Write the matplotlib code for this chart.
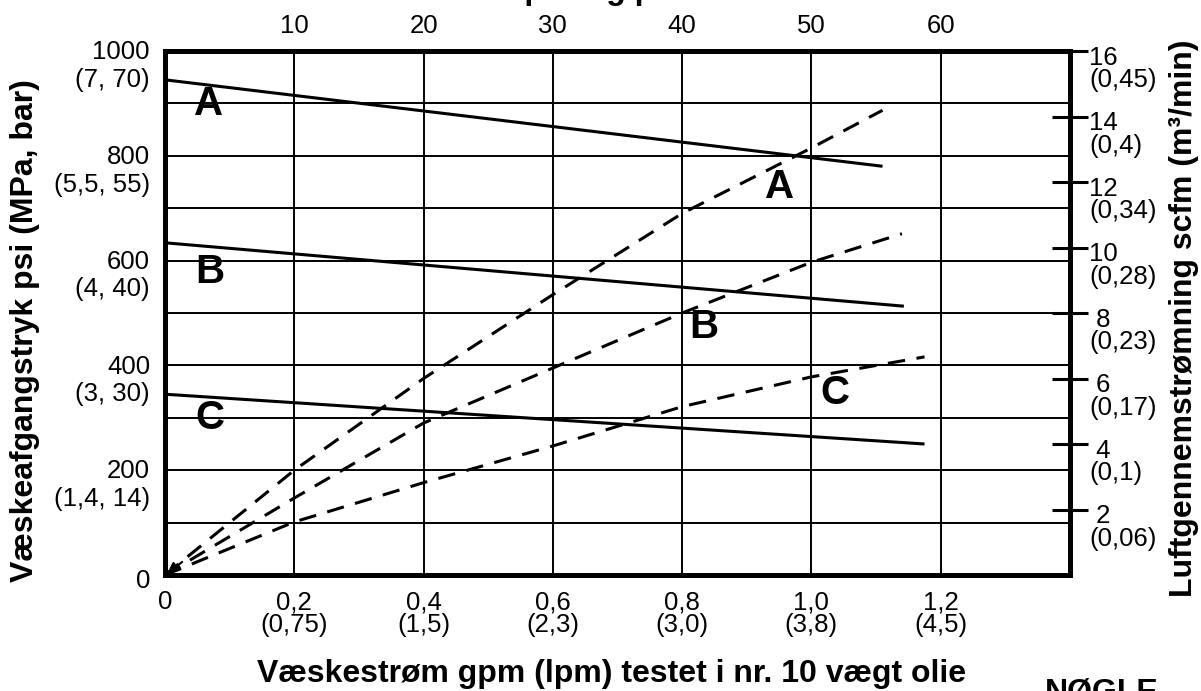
import matplotlib
matplotlib.use("Agg")
import matplotlib.pyplot as plt
from matplotlib.transforms import offset_copy

plt.rcParams['font.family'] = ['Liberation Sans', 'DejaVu Sans']

# --- data ---
# bottom axis: fluid flow gpm (lpm)
gpm_ticks = [0, 0.2, 0.4, 0.6, 0.8, 1.0, 1.2]
gpm_labels = ["0", "0,2\n(0,75)", "0,4\n(1,5)", "0,6\n(2,3)", "0,8\n(3,0)",
              "1,0\n(3,8)", "1,2\n(4,5)"]
# top axis: cycles per minute
cpm_ticks = [10, 20, 30, 40, 50, 60]
# left axis: fluid outlet pressure psi (MPa, bar)
psi_ticks = [0, 200, 400, 600, 800, 1000]
psi_labels = ["0", "200\n(1,4, 14)", "400\n(3, 30)", "600\n(4, 40)",
              "800\n(5,5, 55)", "1000\n(7, 70)"]
# right axis: air consumption scfm (m3/min)
scfm_ticks = [2, 4, 6, 8, 10, 12, 14, 16]
scfm_labels = [" 2\n(0,06)", " 4\n(0,1)", " 6\n(0,17)", " 8\n(0,23)",
               "10\n(0,28)", "12\n(0,34)", "14\n(0,4)", "16\n(0,45)"]

# fluid pressure curves (solid)
press_gpm_A = [0, 1.11]
press_psi_A = [945, 780]
press_gpm_B = [0, 1.143]
press_psi_B = [634, 513]
press_gpm_C = [0, 1.175]
press_psi_C = [345, 250]

# air consumption curves (dashed)
air_gpm_A = [0, 0.2, 0.4, 0.6, 0.8, 1.0, 1.11]
air_scfm_A = [0, 3.2, 6.0, 8.56, 11.04, 13.04, 14.19]
air_gpm_B = [0, 0.2, 0.4, 0.6, 0.8, 1.0, 1.14]
air_scfm_B = [0, 2.35, 4.64, 6.32, 8.0, 9.55, 10.42]
air_gpm_C = [0, 0.2, 0.4, 0.6, 0.8, 1.0, 1.175]
air_scfm_C = [0, 1.62, 2.82, 3.94, 5.14, 6.05, 6.66]

# --- figure ---
fig = plt.figure(figsize=(12.01, 6.91), dpi=100)
ax = fig.add_axes([165/1201, 116/691, 905/1201, 524/691])

ax.set_xlim(0, 1.4)
ax.set_ylim(0, 1000)

# grid every 0.2 gpm / 100 psi
ax.set_xticks([0.2, 0.4, 0.6, 0.8, 1.0, 1.2], minor=True)
ax.set_yticks([100, 200, 300, 400, 500, 600, 700, 800, 900], minor=True)
ax.grid(which='both', color='black', linewidth=1.4)
ax.tick_params(which='minor', length=0)

ax.set_xticks(gpm_ticks, gpm_labels)
ax.tick_params(axis='x', length=0, pad=11, labelsize=18.5)
for t in ax.get_xticklabels():
    t.set_linespacing(0.95)

# left labels: first line on the grid line, second line under it
ax.set_yticks(psi_ticks)
ax.tick_params(axis='y', length=0, labelleft=False)
for v, lbl in zip(psi_ticks, psi_labels):
    down = 15 if "\n" in lbl else 6
    tr = offset_copy(ax.get_yaxis_transform(), fig=fig, x=-15, y=-down, units='dots')
    ax.text(0, v, lbl, transform=tr, ha='right', va='center', fontsize=18.5,
            linespacing=1.18, clip_on=False)

for s in ax.spines.values():
    s.set_linewidth(3.4)

ax.plot(press_gpm_A, press_psi_A, color='black', lw=2.2, solid_capstyle='butt')
ax.plot(press_gpm_B, press_psi_B, color='black', lw=2.2, solid_capstyle='butt')
ax.plot(press_gpm_C, press_psi_C, color='black', lw=2.2, solid_capstyle='butt')

# letters on pressure curves
kw = dict(fontsize=29, fontweight='bold', ha='center', va='center')
ax.text(0.067, 899, "A", **kw)
ax.text(0.07, 578, "B", **kw)
ax.text(0.07, 300, "C", **kw)

# top axis
top = ax.secondary_xaxis('top', functions=(lambda g: g * 50, lambda c: c / 50))
top.set_xticks(cpm_ticks)
top.tick_params(length=0, pad=9, labelsize=18.5)
top.spines['top'].set_linewidth(3.4)

# right axis
ax2 = ax.twinx()
ax2.set_ylim(0, 16)
ax2.set_yticks(scfm_ticks)
ax2.tick_params(axis='y', direction='inout', length=26, width=2.2,
                labelright=False)
for v, lbl in zip(scfm_ticks, scfm_labels):
    tr = offset_copy(ax2.get_yaxis_transform(), fig=fig, x=19, y=-18, units='dots')
    ax2.text(1, v, lbl, transform=tr, ha='left', va='center', fontsize=18.5,
             linespacing=0.9, clip_on=False)
for s in ax2.spines.values():
    s.set_linewidth(3.4)

dash = (0, (5.7, 3.8))
ax2.plot(air_gpm_A, air_scfm_A, color='black', lw=2.2, linestyle=dash)
ax2.plot(air_gpm_B, air_scfm_B, color='black', lw=2.2, linestyle=dash)
ax2.plot(air_gpm_C, air_scfm_C, color='black', lw=2.2, linestyle=dash)
ax2.annotate("", xy=(0, 0), xytext=(0.03, 0.45),
             arrowprops=dict(arrowstyle='-|>', color='black', lw=1.5,
                             mutation_scale=16))

ax2.text(0.950, 740 / 62.5, "A", **kw)
ax2.text(0.834, 473 / 62.5, "B", **kw)
ax2.text(1.037, 347 / 62.5, "C", **kw)

# --- labels ---
fig.text(612/1201, 1 - 682/691, "Væskestrøm gpm (lpm) testet i nr. 10 vægt olie",
         fontsize=23, fontweight='bold', ha='center', va='baseline')
fig.text(25/1201, 1 - 331/691, "Væskeafgangstryk psi (MPa, bar)",
         fontsize=23, fontweight='bold', ha='center', va='center', rotation=90)
fig.text(1184/1201, 1 - 318/691, "Luftgennemstrømning scfm (m³/min)",
         fontsize=23, fontweight='bold', ha='center', va='center', rotation=90)
# title sits above the picture edge, only its lowest part shows
fig.text(612/1201, 1 + 1/691, "Pumpeslag pr. minut",
         fontsize=23, fontweight='bold', ha='center', va='baseline')
fig.text(1102/1201, 1 - 701/691, "NØGLE",
         fontsize=23, fontweight='bold', ha='center', va='baseline')

fig.savefig("out.png", dpi=100)
